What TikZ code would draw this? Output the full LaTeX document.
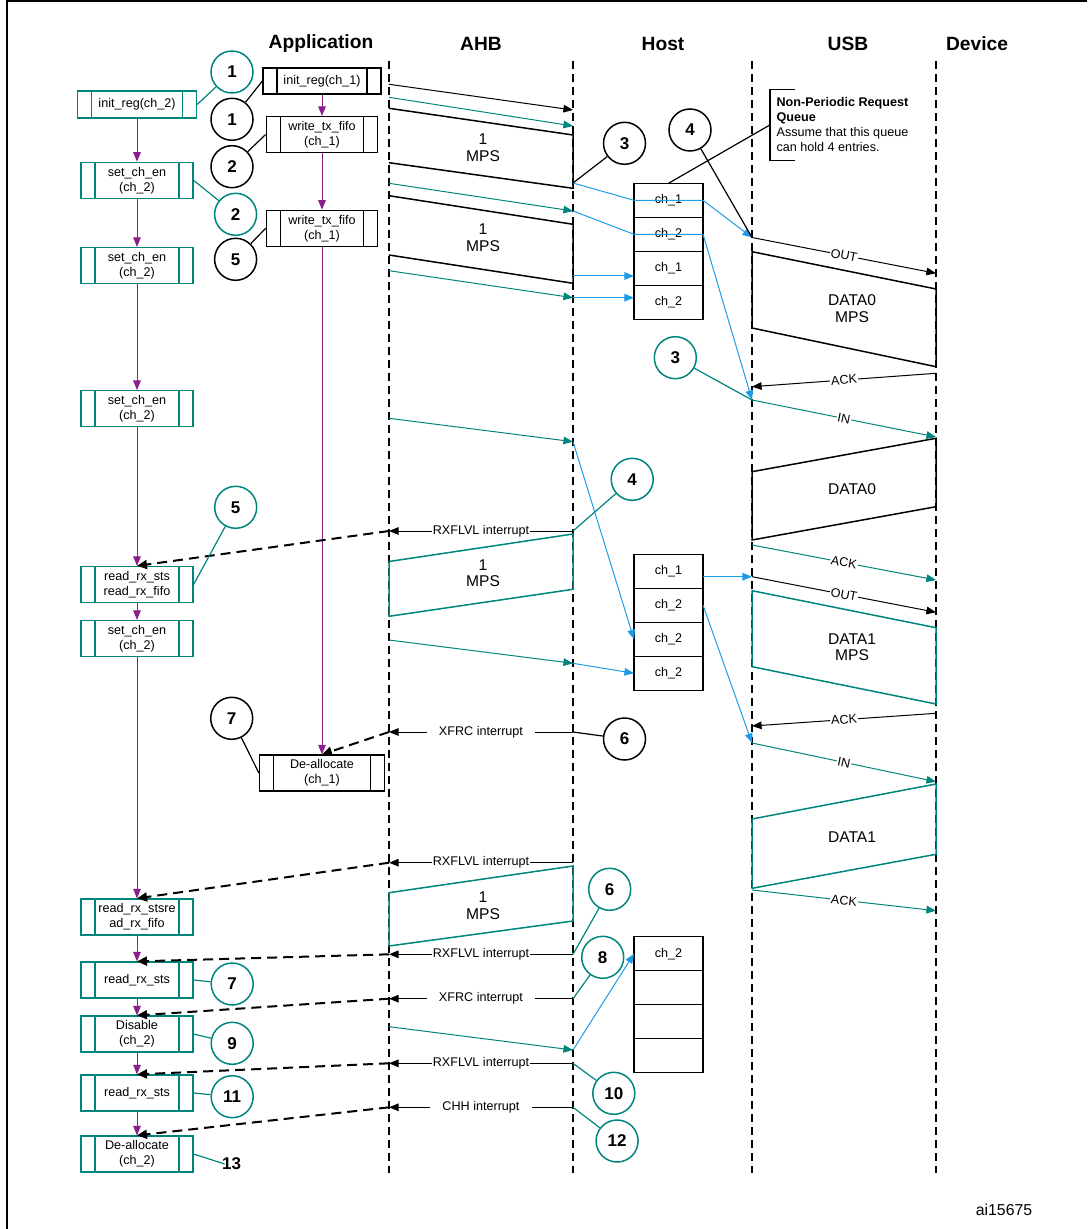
\documentclass[tikz,border=0pt]{standalone}
\usepackage{fontspec}
\setmainfont{Liberation Sans}
\usepackage{xcolor}
\usepackage{tikz}
\usetikzlibrary{positioning}
\usetikzlibrary{arrows.meta}

\definecolor{tealc}{RGB}{0,133,125}
\definecolor{bluec}{RGB}{30,155,230}
\definecolor{purc}{RGB}{140,30,140}

\newcommand{\hdrfont}{\fontsize{9.6}{11}\selectfont\bfseries}
\newcommand{\smfont}{\fontsize{6.3}{7.5}\selectfont}
\newcommand{\mpsfont}{\fontsize{7.8}{8.4}\selectfont}
\newcommand{\numfont}{\fontsize{8.5}{10}\selectfont\bfseries}
\newcommand{\bandlines}[1]{\draw[#1,line width=0.6pt]
  ([xshift=7pt]path picture bounding box.north west) -- ([xshift=7pt]path picture bounding box.south west)
  ([xshift=-7pt]path picture bounding box.north east) -- ([xshift=-7pt]path picture bounding box.south east);}

\tikzset{
  proc/.style={draw, rectangle, align=center, font=\smfont, fill=white, line width=0.6pt,
    minimum width=56pt, minimum height=18pt, inner sep=1pt, path picture={\bandlines{black}}},
  tproc/.style={proc, draw=tealc, path picture={\bandlines{tealc}}},
  num/.style={circle, draw, fill=white, line width=0.75pt, minimum size=21pt, inner sep=0pt, font=\numfont},
  tnum/.style={num, draw=tealc},
  qcell/.style={draw, fill=white, line width=0.6pt, minimum width=34.5pt, minimum height=17pt,
    outer sep=0pt, inner sep=0pt, font=\smfont},
  life/.style={line width=1pt, dash pattern=on 4pt off 2.5pt},
  irq/.style={line width=1pt, dash pattern=on 5pt off 3pt, -{Triangle[length=5pt,width=4.5pt]}},
  msg/.style={line width=0.5pt, ->},
  lbl/.style={font=\smfont, fill=white, inner sep=0.5pt},
  gap/.style={font=\smfont, fill=white, inner xsep=6pt, inner ysep=1pt},
  mps/.style={line width=0.75pt}
}

\begin{document}
\begin{tikzpicture}[x=0.5pt, y=-0.5pt, line width=0.6pt, >={Triangle[length=4.8pt,width=3.8pt]}]
	\useasboundingbox (0,0) rectangle (1087,1229);
	\draw[line width=1pt] (1087,1.5) -- (7,1.5) -- (7,1229);
	
	% column titles and life lines
	\node[font=\hdrfont] (happ) at (321,43.5) {Application};
	\node[font=\hdrfont] (hahb) at (481,43.5) {AHB};
	\node[font=\hdrfont] (hhost) at (663,43.5) {Host};
	\node[font=\hdrfont] (husb) at (848,43.5) {USB};
	\node[font=\hdrfont] (hdev) at (977,43.5) {Device};
	\foreach \x in {389,573,752,936} \draw[life] (\x,61) -- (\x,1173);
	
	% points on the life lines
	\coordinate (k1a) at (389,84.3);   \coordinate (k1b) at (573,110);
	\coordinate (k2a) at (389,97.3);   \coordinate (k2b) at (573,126);
	\coordinate (k3a) at (389,183.3);  \coordinate (k3b) at (573,211);
	\coordinate (k4a) at (389,270.7);  \coordinate (k4b) at (573,297.7);
	\coordinate (k5a) at (389,418.3);  \coordinate (k5b) at (573,441.7);
	\coordinate (k6a) at (389,640);    \coordinate (k6b) at (573,663.3);
	\coordinate (k7a) at (389,1026.7); \coordinate (k7b) at (573,1050);
	\coordinate (h3) at (573,183);     \coordinate (h5) at (573,276);
	\coordinate (r1h) at (573,531);    \coordinate (r1a) at (389,531);
	\coordinate (x1h) at (573,732);    \coordinate (x1a) at (389,732);
	\coordinate (r2h) at (573,862.7);  \coordinate (r2a) at (389,862.7);
	\coordinate (r3h) at (573,954.3);  \coordinate (r3a) at (389,954.3);
	\coordinate (x2h) at (573,998.7);  \coordinate (x2a) at (389,998.7);
	\coordinate (r4h) at (573,1063.3); \coordinate (r4a) at (389,1063.3);
	\coordinate (chh) at (573,1107.3); \coordinate (cha) at (389,1107.3);
	\coordinate (o1a) at (752,237.5);  \coordinate (o1b) at (936,273.3);
	\coordinate (c1a) at (936,373.3);  \coordinate (c1b) at (752,386.7);
	\coordinate (i1a) at (752,400);    \coordinate (i1b) at (936,437);
	\coordinate (c2a) at (752,545);    \coordinate (c2b) at (936,580);
	\coordinate (o2a) at (752,576.7);  \coordinate (o2b) at (936,612.3);
	\coordinate (c3a) at (936,713.3);  \coordinate (c3b) at (752,726);
	\coordinate (i2a) at (752,743);    \coordinate (i2b) at (936,781.7);
	\coordinate (c4a) at (752,890);    \coordinate (c4b) at (936,910.7);
	
	% data packets
	\draw[mps] (389,108.3) -- (573,135) -- (573,188.3) -- (389,162.7);
	\node[font=\mpsfont, align=center] (mps1) at (483,148) {1\\MPS};
	\draw[mps] (389,195.7) -- (573,224.3) -- (573,283.3) -- (389,255);
	\node[font=\mpsfont, align=center] (mps2) at (483,238) {1\\MPS};
	\draw[mps,tealc] (389,561.5) -- (573,534) -- (573,589.3) -- (389,616.3) -- cycle;
	\node[font=\mpsfont, align=center] (mps3) at (483,573.3) {1\\MPS};
	\draw[mps,tealc] (389,892.7) -- (573,866) -- (573,921) -- (389,946) -- cycle;
	\node[font=\mpsfont, align=center] (mps4) at (483,906) {1\\MPS};
	\draw[mps] (752,251.7) -- (936,289) -- (936,366.7) -- (752,328) -- cycle;
	\node[font=\mpsfont, align=center] (d0m) at (852,308.3) {DATA0\\MPS};
	\draw[mps] (752,471.7) -- (936,438.3) -- (936,506.7) -- (752,540) -- cycle;
	\node[font=\mpsfont] (d0) at (852,489.3) {DATA0};
	\draw[mps,tealc] (752,590.7) -- (936,627.7) -- (936,704) -- (752,666.7) -- cycle;
	\node[font=\mpsfont, align=center] (d1m) at (852,647.3) {DATA1\\MPS};
	\draw[mps,tealc] (752,819) -- (936,784) -- (936,854.3) -- (752,888.3) -- cycle;
	\node[font=\mpsfont] (d1) at (852,836.7) {DATA1};
	
	% application side
	\node[tproc, minimum width=59.5pt, minimum height=13.5pt] (l1) at (137,104.5) {init\_reg(ch\_2)};
	\node[tproc] (l2) at (137,180.3) {set\_ch\_en\\(ch\_2)};
	\node[tproc] (l3) at (137,265.5) {set\_ch\_en\\(ch\_2)};
	\node[tproc] (l4) at (137,408.7) {set\_ch\_en\\(ch\_2)};
	\node[tproc] (l5) at (137,584.5) {read\_rx\_sts\\read\_rx\_fifo};
	\node[tproc] (l6) at (137,638.5) {set\_ch\_en\\(ch\_2)};
	\node[tproc] (l7) at (137,917) {read\_rx\_stsre\\ad\_rx\_fifo};
	\node[tproc] (l8) at (137,980) {read\_rx\_sts};
	\node[tproc] (l9) at (137,1034) {Disable\\(ch\_2)};
	\node[tproc] (l10) at (137,1093) {read\_rx\_sts};
	\node[tproc] (l11) at (137,1154) {De-allocate\\(ch\_2)};
	
	\node[proc, minimum width=59pt, minimum height=13pt] (a1) at (322,81) {init\_reg(ch\_1)};
	\node[proc, minimum width=55.75pt] (a2) at (322,134.5) {write\_tx\_fifo\\(ch\_1)};
	\node[proc, minimum width=55.75pt] (a3) at (322,228.3) {write\_tx\_fifo\\(ch\_1)};
	\node[proc, minimum width=62.5pt] (a4) at (322,773) {De-allocate\\(ch\_1)};
	
	\foreach \p/\q in {l1/l2,l2/l3,l3/l4,l4/l5,l5/l6,l6/l7,l7/l8,l8/l9,l9/l10,l10/l11,a1/a2,a2/a3,a3/a4}
		\draw[purc, msg] (\p) -- (\q);
	
	% request queues
	\node[qcell] (q1a) at (668.5,200.3) {ch\_1};
	\node[qcell] (q1b) [below=0pt of q1a] {ch\_2};
	\node[qcell] (q1c) [below=0pt of q1b] {ch\_1};
	\node[qcell] (q1d) [below=0pt of q1c] {ch\_2};
	\node[qcell] (q2a) at (668.5,571.3) {ch\_1};
	\node[qcell] (q2b) [below=0pt of q2a] {ch\_2};
	\node[qcell] (q2c) [below=0pt of q2b] {ch\_2};
	\node[qcell] (q2d) [below=0pt of q2c] {ch\_2};
	\node[qcell] (q3a) at (668.5,953.7) {ch\_2};
	\node[qcell] (q3b) [below=0pt of q3a] {};
	\node[qcell] (q3c) [below=0pt of q3b] {};
	\node[qcell] (q3d) [below=0pt of q3c] {};
	
	\node[font=\smfont, align=left, inner sep=3pt, anchor=north west, minimum height=35pt] (note) at (770,89.3)
		{\textbf{Non-Periodic Request}\\\textbf{Queue}\\Assume that this queue\\can hold 4 entries.};
	\draw ([xshift=12.5pt]note.north west) -- (note.north west) -- (note.south west) -- ([xshift=12.5pt]note.south west);
	\draw (note.west) -- (q1a.north);
	
	% AHB transfers
	\draw[msg] (k1a) -- (k1b);
	\draw[msg,tealc] (k2a) -- (k2b);
	\draw[msg,tealc] (k3a) -- (k3b);
	\draw[msg,tealc] (k4a) -- (k4b);
	\draw[msg,tealc] (k5a) -- (k5b);
	\draw[msg,tealc] (k6a) -- (k6b);
	\draw[msg,tealc] (k7a) -- (k7b);
	
	% host queue entries
	\draw[msg,bluec] (h3) -- (q1a.west) -- (q1a.east) -- (o1a);
	\draw[msg,bluec] (k3b) -- (q1b.west) -- (q1b.east) -- (i1a);
	\draw[msg,bluec] (h5) -- (h5 -| q1c.west);
	\draw[msg,bluec] (k4b) -- (k4b -| q1d.west);
	\draw[msg,bluec] (k5b) -- (q2c.west);
	\draw[msg,bluec] (k6b) -- (q2d.west);
	\draw[msg,bluec] (q2a.east |- o2a) -- (o2a);
	\draw[msg,bluec] (q2b.east) -- (i2a);
	\draw[msg,bluec] (k7b) -- (q3a.west);
	
	% USB tokens and handshakes
	\draw[msg] (o1a) -- node[lbl, sloped] {OUT} (o1b);
	\draw[msg] (c1a) -- node[lbl, sloped] {ACK} (c1b);
	\draw[msg,tealc] (i1a) -- node[lbl, sloped, text=black] {IN} (i1b);
	\draw[msg,tealc] (c2a) -- node[lbl, sloped, text=black] {ACK} (c2b);
	\draw[msg] (o2a) -- node[lbl, sloped] {OUT} (o2b);
	\draw[msg] (c3a) -- node[lbl, sloped] {ACK} (c3b);
	\draw[msg,tealc] (i2a) -- node[lbl, sloped, text=black] {IN} (i2b);
	\draw[msg,tealc] (c4a) -- node[lbl, sloped, text=black] {ACK} (c4b);
	
	% interrupts
	\draw[msg] (r1h) -- node[lbl] {RXFLVL interrupt} (r1a);
	\draw[msg] (x1h) -- node[gap] {XFRC interrupt} (x1a);
	\draw[msg] (r2h) -- node[lbl] {RXFLVL interrupt} (r2a);
	\draw[msg] (r3h) -- node[lbl] {RXFLVL interrupt} (r3a);
	\draw[msg] (x2h) -- node[gap] {XFRC interrupt} (x2a);
	\draw[msg] (r4h) -- node[lbl] {RXFLVL interrupt} (r4a);
	\draw[msg] (chh) -- node[gap] {CHH interrupt} (cha);
	\draw[irq] (r1a) -- (l5.north);
	\draw[irq] (x1a) -- (a4.north);
	\draw[irq] (r2a) -- (l7.north);
	\draw[irq] (r3a) -- (l8.north);
	\draw[irq] (x2a) -- (l9.north);
	\draw[irq] (r4a) -- (l10.north);
	\draw[irq] (cha) -- (l11.north);
	
	% step numbers
	\node[tnum] (t1) at (232,72) {1};
	\node[num] (b1) at (232,119.3) {1};
	\node[num] (b2) at (232,166.7) {2};
	\node[tnum] (t2) at (235.6,214.3) {2};
	\node[num] (b5) at (235.6,259.3) {5};
	\node[num] (b3) at (624.5,143.3) {3};
	\node[num] (b4) at (690,130) {4};
	\node[tnum] (t3) at (675.3,357.7) {3};
	\node[tnum] (t4) at (632.2,479.3) {4};
	\node[tnum] (t5) at (235.7,507.3) {5};
	\node[num] (b7) at (231.7,718.3) {7};
	\node[num] (b6) at (624.5,739) {6};
	\node[tnum] (t6) at (609.7,889.3) {6};
	\node[tnum] (t8) at (602.7,957.3) {8};
	\node[tnum] (t7) at (232.2,984) {7};
	\node[tnum] (t9) at (232.2,1043.3) {9};
	\node[tnum] (t10) at (613.8,1093.3) {10};
	\node[tnum] (t11) at (232.2,1096.7) {11};
	\node[tnum] (t12) at (617.1,1141) {12};
	\node[font=\numfont, inner sep=0pt] (n13) at (231.7,1164) {13};
	
	\draw[tealc] (t1) -- (l1.east);
	\draw (b1) -- (a1.west);
	\draw (b2) -- (a2.west);
	\draw[tealc] (t2) -- (l2.east);
	\draw (b5) -- (a3.west);
	\draw (b3) -- (h3);
	\draw (b4) -- (o1a);
	\draw[tealc] (t3) -- (i1a);
	\draw[tealc] (t4) -- (r1h);
	\draw[tealc] (t5) -- (l5.east);
	\draw (b7) -- (a4.west);
	\draw (b6) -- (x1h);
	\draw[tealc] (t6) -- (r3h);
	\draw[tealc] (t7) -- (l8.east);
	\draw[tealc] (t8) -- (x2h);
	\draw[tealc] (t9) -- (l9.east);
	\draw[tealc] (t10) -- (r4h);
	\draw[tealc] (t11) -- (l10.east);
	\draw[tealc] (t12) -- (chh);
	\draw[tealc] (l11.east) -- ([xshift=1.5pt]n13.west);
	
	\node[font={\fontsize{7.9}{9}\selectfont}] (fig) at (1004,1210) {ai15675};
\end{tikzpicture}
\end{document}
